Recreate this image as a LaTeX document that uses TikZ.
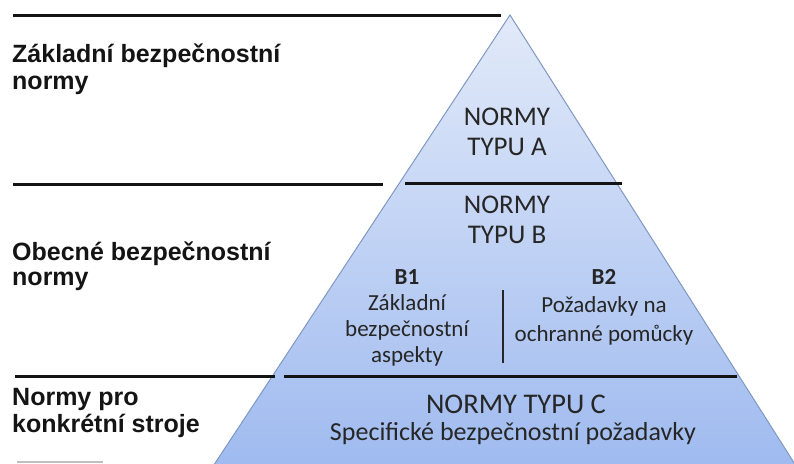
\documentclass[tikz,border=0pt]{standalone}
\usepackage{fontspec}
\setmainfont{Carlito}
\newfontfamily\labfont{Liberation Sans}
\definecolor{triTop}{HTML}{E2EAF9}
\definecolor{triBot}{HTML}{9DB9EF}
\definecolor{triEdge}{HTML}{7F98C2}
\definecolor{inkTri}{HTML}{262626}
\newcommand\myCstack[1]{\vtop{\halign{\hfil##\hfil\cr#1\crcr}}}
\newcommand\myLstack[1]{\vtop{\halign{##\hfil\cr#1\crcr}}}
\begin{document}
\begin{tikzpicture}[x=1pt,y=-1pt,
  sep/.style={line width=3pt, black!92},
  lab/.style={font=\labfont\bfseries\fontsize{25}{27}\selectfont, anchor=base west, inner sep=0pt, text=black!92},
  head/.style={font=\fontsize{27}{30}\selectfont, anchor=base, inner sep=0pt, text=inkTri},
  sub/.style={font=\fontsize{23}{26}\selectfont, anchor=base, inner sep=0pt, text=inkTri}]
\useasboundingbox (0,0) rectangle (794,463);
\begin{scope}
  \clip (0,0) rectangle (794,463);
  \coordinate (apex) at (510,15);
  \coordinate (bl) at (204,480);
  \coordinate (br) at (805,480);
  \shade[top color=triTop, bottom color=triBot, draw=triEdge, line width=1pt] (apex) -- (br) -- (bl) -- cycle;
\end{scope}
% separators
\coordinate (s1a) at (13,15);   \coordinate (s1b) at (501,15);
\coordinate (s2a) at (13,184);  \coordinate (s2b) at (383,184);
\coordinate (s2c) at (405,183); \coordinate (s2d) at (622,183);
\coordinate (s3a) at (15,376);  \coordinate (s3b) at (275,376);
\coordinate (s3c) at (284,376); \coordinate (s3d) at (737,376);
\coordinate (s4a) at (17,462);  \coordinate (s4b) at (103,462);
\coordinate (va) at (503,290);  \coordinate (vb) at (503,363);
\draw[sep] (s1a) -- (s1b);
\draw[sep] (s2a) -- (s2b);
\draw[sep] (s2c) -- (s2d);
\draw[sep] (s3a) -- (s3b);
\draw[sep] (s3c) -- (s3d);
\draw[line width=2pt, black!25] (s4a) -- (s4b);
\draw[line width=2pt, inkTri] (va) -- (vb);
% left labels
\node[lab] (lA) at (12,62) {\myLstack{Základní bezpečnostní\cr normy}};
\node[lab, font=\labfont\bfseries\fontsize{25}{25}\selectfont] (lB) at (12,260) {\myLstack{Obecné bezpečnostní\cr normy}};
\node[lab] (lC) at (12,405) {\myLstack{Normy pro\cr konkrétní stroje}};
% pyramid texts
\node[head] (tA) at (507,125) {\myCstack{NORMY\cr TYPU A}};
\node[head] (tB) at (507,213) {\myCstack{NORMY\cr TYPU B}};
\node[sub] (b1) at (407,284) {\myCstack{\textbf{B1}\cr Základní\cr bezpečnostní\cr aspekty}};
\node[sub, font=\fontsize{23}{28.5}\selectfont] (b2) at (604,284) {\myCstack{\textbf{B2}\cr Požadavky na\cr ochranné pomůcky}};
\node[head, font=\fontsize{28.5}{30}\selectfont] (tC) at (516,413) {NORMY TYPU C};
\node[sub, font=\fontsize{26}{28}\selectfont] (tCs) at (513,440) {Specifické bezpečnostní požadavky};
\end{tikzpicture}
\end{document}
